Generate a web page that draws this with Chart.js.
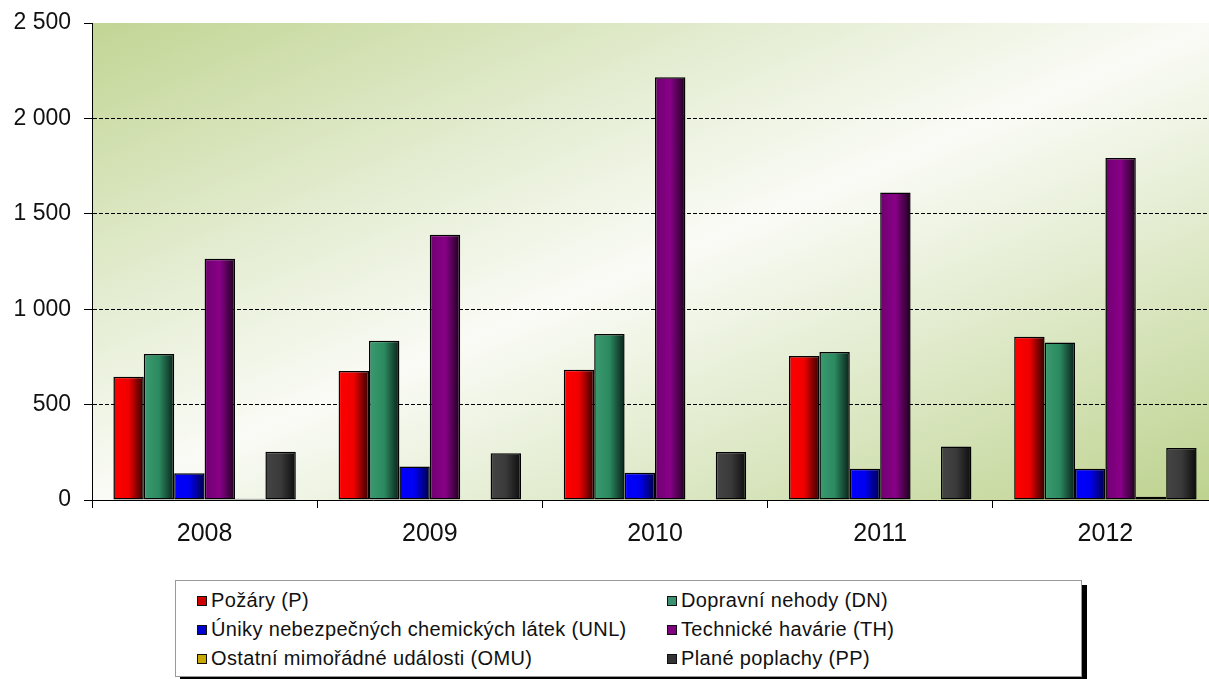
<!DOCTYPE html>
<html>
<head>
<meta charset="utf-8">
<script src="https://cdn.jsdelivr.net/npm/chart.js@4"></script>
<style>
  html, body { margin: 0; padding: 0; background: #fff; overflow: hidden; width: 1209px; height: 679px; }
  #wrap { position: absolute; left: 0; top: 0; width: 1222px; height: 560px; }
  #legend {
    position: absolute; left: 175px; top: 580px; width: 905px; height: 95px;
    border: 1.5px solid #999; background: #fff;
    box-shadow: 5px 5px 0 #000;
    font-family: "Liberation Sans", Arial, sans-serif; font-size: 20px; color: #111;
    letter-spacing: 0.35px;
  }
  .item { position: absolute; height: 30px; line-height: 30px; white-space: nowrap; }
  .item i { display: inline-block; width: 8px; height: 8px; border: 1.5px solid #111; margin-right: 4px; vertical-align: 1px; }
</style>
</head>
<body>
<div id="wrap"><canvas id="chart" width="1222" height="560"></canvas></div>
<div id="legend"></div>
<script>
const years = ["2008", "2009", "2010", "2011", "2012"];

const seriesNames = [
  "Požáry (P)",
  "Dopravní nehody (DN)",
  "Úniky nebezpečných chemických látek (UNL)",
  "Technické havárie (TH)",
  "Ostatní mimořádné události (OMU)",
  "Plané poplachy (PP)"
];

const pozary = [646, 676, 682, 755, 856];
const dopravniNehody = [765, 835, 870, 776, 825];
const unikyLatek = [140, 175, 143, 164, 164];
const technickeHavarie = [1265, 1390, 2216, 1611, 1792];
const ostatniUdalosti = [6, 2, 2, 2, 17];
const planePoplachy = [253, 245, 252, 280, 273];

const yTicks = [0, 500, 1000, 1500, 2000, 2500];

// left, middle, right shade of each bar
const shades = [
  ["#ff0000", "#f00000", "#300000"],
  ["#3a9a70", "#2c8a60", "#08201a"],
  ["#0000ff", "#0000f0", "#000048"],
  ["#700070", "#880088", "#1c001c"],
  ["#d8b800", "#c0a000", "#403000"],
  ["#454545", "#3a3a3a", "#0c0c0c"]
];
const legendColors = ["#d00000", "#3a9070", "#0000d0", "#800080", "#c8a800", "#333333"];
const allValues = [pozary, dopravniNehody, unikyLatek, technickeHavarie, ostatniUdalosti, planePoplachy];

const catPct = 0.81;

function barFill(c) {
  const chart = c.chart;
  const xs = chart.scales.x;
  const s = shades[c.datasetIndex];
  if (!xs || !chart.chartArea || c.dataIndex === undefined) return s[1];
  const cw = (xs.right - xs.left) / years.length;
  const bw = cw * catPct / allValues.length;
  const left = xs.getPixelForValue(c.dataIndex) - cw * catPct / 2 + c.datasetIndex * bw;
  const g = chart.ctx.createLinearGradient(left, 0, left + bw, 0);
  g.addColorStop(0, s[0]);
  g.addColorStop(0.5, s[1]);
  g.addColorStop(1, s[2]);
  return g;
}

const areaBackground = {
  id: "areaBackground",
  beforeDraw(chart) {
    const a = chart.chartArea;
    const ctx = chart.ctx;
    const W = a.right - a.left, H = a.bottom - a.top;
    const cx = a.left + W / 2, cy = a.top + H / 2;
    const n = Math.sqrt(W * W + H * H);
    const s = W * H / n;
    const dx = H / n * s, dy = W / n * s;
    const g = ctx.createLinearGradient(cx - dx, cy - dy, cx + dx, cy + dy);
    g.addColorStop(0, "#c2d594");
    g.addColorStop(0.3, "#e4edd2");
    g.addColorStop(0.5, "#fafbf6");
    g.addColorStop(0.68, "#e4edd2");
    g.addColorStop(1, "#bdd28e");
    ctx.save();
    ctx.fillStyle = g;
    ctx.fillRect(a.left, a.top, W, H);
    ctx.restore();
  }
};

const datasets = seriesNames.map((name, i) => ({
  label: name,
  data: allValues[i],
  backgroundColor: barFill,
  borderColor: "#000",
  borderWidth: 1.5,
  borderSkipped: false,
  categoryPercentage: catPct,
  barPercentage: 1
}));

new Chart(document.getElementById("chart"), {
  type: "bar",
  data: { labels: years, datasets: datasets },
  options: {
    responsive: false,
    animation: false,
    layout: { padding: { left: 0, right: 4, top: 23, bottom: 0 } },
    plugins: { legend: { display: false }, tooltip: { enabled: false } },
    scales: {
      x: {
        afterFit: s => { s.height = 60; },
        grid: { drawOnChartArea: false, drawTicks: true, tickLength: 8, tickColor: "#000", offset: true },
        border: { color: "#000", width: 1 },
        ticks: { color: "#111", padding: 11, font: { family: "Liberation Sans", size: 25 } }
      },
      y: {
        min: 0,
        max: 2500,
        afterFit: s => { s.width = 92; s.paddingTop = 10; s.paddingBottom = 10; },
        afterBuildTicks: s => { s.ticks = yTicks.map(v => ({ value: v })); },
        grid: {
          color: c => (c.tick.value === 0 || c.tick.value === 2500) ? "rgba(0,0,0,0)" : "#000",
          lineWidth: 1,
          tickLength: 8,
          tickColor: "#000"
        },
        border: { color: "#000", width: 1, dash: [4, 2] },
        ticks: {
          color: "#111",
          padding: 13,
          font: { family: "Liberation Sans", size: 23 },
          callback: v => String(v).replace(/\B(?=(\d{3})+(?!\d))/g, " ")
        }
      }
    }
  },
  plugins: [areaBackground]
});

// legend in two columns, three rows
const legend = document.getElementById("legend");
seriesNames.forEach((name, i) => {
  const d = document.createElement("div");
  d.className = "item";
  d.style.left = (i % 2 === 0 ? 21 : 491) + "px";
  d.style.top = (4 + Math.floor(i / 2) * 29) + "px";
  const m = document.createElement("i");
  m.style.background = legendColors[i];
  d.appendChild(m);
  d.appendChild(document.createTextNode(name));
  legend.appendChild(d);
});
</script>
</body>
</html>
